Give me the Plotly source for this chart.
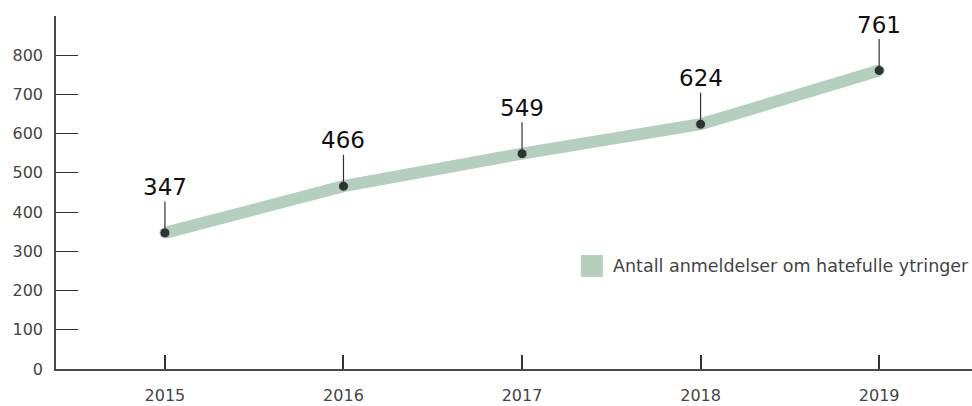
import plotly.graph_objects as go

years = [2015, 2016, 2017, 2018, 2019]
values = [347, 466, 549, 624, 761]
series_name = "Antall anmeldelser om hatefulle ytringer"
y_ticks = [0, 100, 200, 300, 400, 500, 600, 700, 800]

LINE_COLOR = "#b5cfbe"
DOT_COLOR = "#2e3431"
AXIS_COLOR = "#4a4a4a"
FONT = "DejaVu Sans"

fig = go.Figure()
fig.add_trace(go.Scatter(
    x=years, y=values, mode="lines",
    line=dict(color=LINE_COLOR, width=12),
    showlegend=False, hoverinfo="skip",
))
fig.add_trace(go.Scatter(
    x=years, y=values, mode="markers",
    marker=dict(color=DOT_COLOR, size=10, line=dict(color=LINE_COLOR, width=1)),
    showlegend=False, name=series_name,
))

for x, v in zip(years, values):
    fig.add_annotation(
        x=x, y=v, text=str(v), showarrow=True, arrowhead=0, arrowwidth=1.2,
        arrowcolor="#333333", ax=0, ay=-46, standoff=4,
        font=dict(family=FONT, size=23, color="#111111"),
    )

# legend key
fig.add_shape(type="rect", xref="paper", yref="paper",
              x0=0.573, x1=0.597, y0=0.261, y1=0.323,
              fillcolor=LINE_COLOR, line=dict(width=0))
fig.add_annotation(xref="paper", yref="paper", x=0.606, y=0.292,
                   xanchor="left", yanchor="middle", showarrow=False,
                   text=series_name,
                   font=dict(family=FONT, size=17.5, color="#444444"))

fig.update_layout(
    width=972, height=406,
    margin=dict(l=56, r=0, t=16, b=37, autoexpand=False),
    plot_bgcolor="white", paper_bgcolor="white",
    font=dict(family=FONT, size=15, color="#444444"),
    xaxis=dict(
        range=[2014.39, 2019.52], tickvals=years, ticktext=[str(y) for y in years],
        showgrid=False, zeroline=False, showline=True, linecolor=AXIS_COLOR, linewidth=1.5,
        ticks="inside", ticklen=14, tickwidth=2, tickcolor="#333333",
        tickfont=dict(family=FONT, size=16, color="#444444"),
        ticklabelstandoff=11, automargin=False,
    ),
    yaxis=dict(
        range=[0, 900], tickvals=y_ticks,
        showgrid=False, zeroline=False, showline=True, linecolor=AXIS_COLOR, linewidth=1.5,
        ticks="inside", ticklen=22, tickwidth=1.2, tickcolor="#333333",
        tickfont=dict(family=FONT, size=16, color="#444444"),
        ticklabelstandoff=8, automargin=False,
    ),
)

fig.write_html(
    "out.html",
    config={"displayModeBar": False},
    post_script="document.body.style.margin='0';document.body.style.overflow='hidden';",
)
